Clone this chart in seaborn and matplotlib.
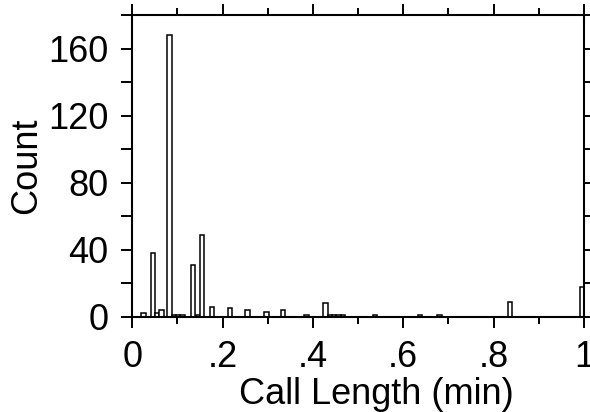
import numpy as np
import pandas as pd
import matplotlib
matplotlib.use("Agg")
import matplotlib.pyplot as plt
import seaborn as sns
from matplotlib.ticker import MultipleLocator, FuncFormatter

# ---- data (call length in minutes, number of calls) ----
call_length = [0.025, 0.046, 0.0555, 0.065, 0.0825, 0.092, 0.1015, 0.111,
               0.135, 0.1448, 0.155, 0.176, 0.216, 0.255, 0.297, 0.334,
               0.386, 0.428, 0.4375, 0.447, 0.4565, 0.466, 0.537, 0.637,
               0.680, 0.836, 0.995]
counts = [2, 38, 2, 4, 168, 1, 1, 1,
          31, 1, 49, 6, 5, 4, 3, 4,
          1, 8, 1, 1, 1, 1, 1, 1,
          1, 9, 18]
x_ticks = [0, 0.2, 0.4, 0.6, 0.8, 1.0]
y_ticks = [0, 40, 80, 120, 160]

sns.set_theme(style="ticks")
plt.rcParams["font.family"] = ["Liberation Sans", "DejaVu Sans"]

fig = plt.figure(figsize=(5.9, 4.12), dpi=100)
ax = fig.add_axes([0.2242, 0.2313, 0.7656, 0.7323])

df = pd.DataFrame({"call_length": call_length, "count": counts})
w = 0.0095
edges = np.unique(np.round(np.concatenate([df["call_length"] - w / 2,
                                           df["call_length"] + w / 2]), 6))
sns.histplot(data=df, x="call_length", weights="count", bins=edges.tolist(),
             color="white", edgecolor="black", linewidth=1.1, alpha=1, ax=ax)

ax.set_xlim(0, 1)
ax.set_ylim(0, 180)
ax.set_xticks(x_ticks)
ax.set_yticks(y_ticks)
ax.xaxis.set_minor_locator(MultipleLocator(0.1))
ax.yaxis.set_minor_locator(MultipleLocator(20))


def fmt(v, pos):
    if abs(v) < 1e-9:
        return "0"
    if abs(v - 1) < 1e-9:
        return "1"
    return f"{v:.1f}".lstrip("0")


ax.xaxis.set_major_formatter(FuncFormatter(fmt))

for s in ax.spines.values():
    s.set_visible(True)
    s.set_linewidth(1.5)
    s.set_color("black")

ax.tick_params(which="both", direction="out", top=True, right=True,
               width=1.4, color="black", labelsize=26, labelcolor="black", pad=9)
ax.tick_params(axis="x", which="major", length=8)
ax.tick_params(axis="x", which="minor", length=5)
ax.tick_params(axis="y", which="both", length=8)

ax.set_xlabel("Call Length (min)", fontsize=26, color="black", labelpad=0)
ax.set_ylabel("Count", fontsize=26, color="black", labelpad=3)
ax.xaxis.set_label_coords(0.54, -0.2)
ax.grid(False)
ax.set_facecolor("white")
fig.patch.set_facecolor("white")

fig.savefig("out.png", dpi=100, facecolor="white")
